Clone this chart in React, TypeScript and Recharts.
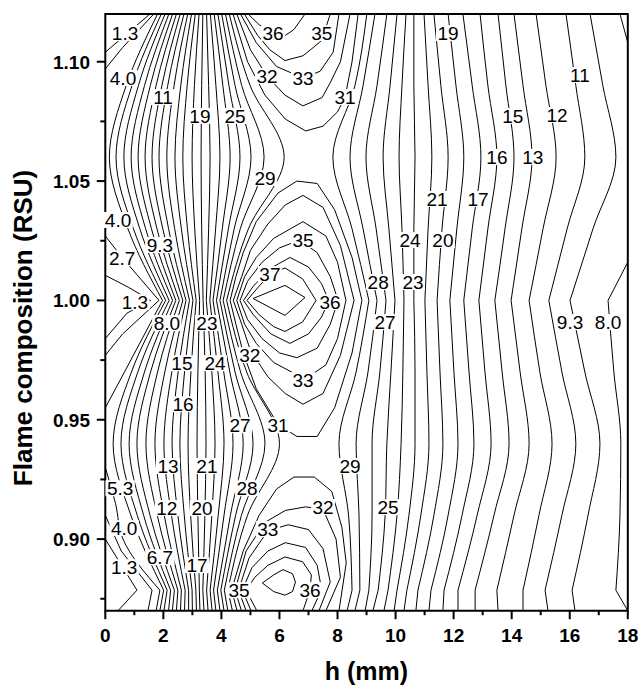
import React from "react";
import { ComposedChart, Line, Scatter, XAxis, YAxis, ReferenceArea } from "recharts";

const FONT = "'Liberation Sans', Arial, Helvetica, sans-serif";

// ---- axes ----
const xTicks = [0, 1, 2, 3, 4, 5, 6, 7, 8, 9, 10, 11, 12, 13, 14, 15, 16, 17, 18];
const xMajorTicks = [0, 2, 4, 6, 8, 10, 12, 14, 16, 18];
const yTicks = [0.875, 0.9, 0.925, 0.95, 0.975, 1.0, 1.025, 1.05, 1.075, 1.1];
const yMajorTicks = [0.9, 0.95, 1.0, 1.05, 1.1];

const rowsRSU = [1.12, 1.09, 1.06, 1.03, 1.0, 0.97, 0.94, 0.91, 0.8786, 0.87];

// left family of contour lines (levels 5.3 ... 29), h (mm) at each row
const leftLevels = [5.33, 6.67, 8.0, 9.33, 10.67, 12, 13.33, 14.67, 16, 17.33, 18.67, 20, 21.33, 22.67, 24, 25.33, 26.67, 28, 29.33];
const leftCrossings = [
  [1.93, 0.92, 0.37, 0.97, 2.08, 0.9, 0.27, 0.88, 2.01, 1.88],
  [2.06, 1.14, 0.64, 1.19, 2.2, 1.12, 0.54, 1.1, 2.13, 2.02],
  [2.19, 1.35, 0.89, 1.39, 2.32, 1.35, 0.82, 1.32, 2.25, 2.18],
  [2.32, 1.55, 1.13, 1.59, 2.43, 1.56, 1.09, 1.54, 2.38, 2.31],
  [2.45, 1.75, 1.37, 1.78, 2.55, 1.8, 1.4, 1.79, 2.5, 2.45],
  [2.58, 1.95, 1.61, 1.98, 2.67, 2.05, 1.71, 2.03, 2.62, 2.59],
  [2.71, 2.15, 1.85, 2.18, 2.78, 2.29, 2.02, 2.28, 2.75, 2.73],
  [2.84, 2.37, 2.12, 2.39, 2.9, 2.51, 2.3, 2.5, 2.87, 2.87],
  [2.97, 2.6, 2.4, 2.62, 3.02, 2.73, 2.57, 2.72, 2.99, 3.0],
  [3.1, 2.82, 2.67, 2.83, 3.13, 2.95, 2.85, 2.94, 3.12, 3.14],
  [3.23, 3.07, 2.99, 3.08, 3.25, 3.19, 3.16, 3.19, 3.24, 3.26],
  [3.36, 3.32, 3.3, 3.32, 3.37, 3.44, 3.47, 3.43, 3.36, 3.4],
  [3.49, 3.56, 3.61, 3.56, 3.48, 3.67, 3.78, 3.67, 3.49, 3.54],
  [3.62, 3.81, 3.95, 3.8, 3.6, 3.88, 4.09, 3.89, 3.61, 3.68],
  [3.75, 4.05, 4.3, 4.03, 3.71, 4.08, 4.4, 4.09, 3.73, 3.81],
  [3.88, 4.26, 4.64, 4.24, 3.83, 4.29, 4.75, 4.31, 3.86, 3.95],
  [4.01, 4.47, 5.02, 4.44, 3.95, 4.47, 5.09, 4.49, 3.98, 4.09],
  [4.14, 4.7, 5.47, 4.65, 4.06, 4.66, 5.5, 4.69, 4.1, 4.22],
  [4.27, 4.99, 6.16, 4.93, 4.18, 4.87, 6.0, 4.9, 4.22, 4.38],
];

// right family of contour lines (levels 29 ... 9.3), h (mm) at each row
const rightLevels = [29.33, 28, 26.67, 25.33, 24, 22.67, 21.33, 20, 18.67, 17.33, 16, 14.67, 13.33, 12, 10.67, 9.33];
const rightCrossings = [
  [9.01, 8.6, 7.84, 8.5, 9.08, 8.64, 8.05, 8.38, 8.5, 8.33],
  [9.29, 8.88, 8.43, 8.88, 9.36, 9.05, 8.64, 8.74, 8.77, 8.6],
  [9.7, 9.36, 8.98, 9.33, 9.67, 9.46, 9.19, 9.19, 9.08, 8.95],
  [10.05, 9.81, 9.57, 9.77, 9.98, 9.84, 9.7, 9.64, 9.4, 9.22],
  [10.36, 10.22, 10.12, 10.22, 10.29, 10.25, 10.19, 10.05, 9.74, 9.6],
  [10.63, 10.63, 10.67, 10.63, 10.63, 10.67, 10.67, 10.46, 10.05, 9.95],
  [10.98, 11.12, 11.25, 11.12, 11.01, 11.08, 11.15, 10.87, 10.39, 10.29],
  [11.32, 11.56, 11.81, 11.6, 11.43, 11.53, 11.63, 11.32, 10.77, 10.7],
  [11.81, 12.08, 12.35, 12.11, 11.87, 12.01, 12.15, 11.81, 11.22, 11.15],
  [12.32, 12.64, 12.94, 12.64, 12.35, 12.53, 12.7, 12.29, 11.67, 11.63],
  [12.91, 13.18, 13.49, 13.18, 12.87, 13.08, 13.29, 12.81, 12.15, 12.15],
  [13.53, 13.8, 14.08, 13.77, 13.42, 13.67, 13.91, 13.39, 12.74, 12.74],
  [14.08, 14.39, 14.7, 14.35, 13.98, 14.29, 14.6, 14.08, 13.49, 13.53],
  [14.84, 15.18, 15.53, 15.08, 14.6, 14.97, 15.39, 14.94, 14.39, 14.39],
  [15.87, 16.21, 16.52, 15.91, 15.28, 15.73, 16.21, 15.73, 15.15, 15.25],
  [16.7, 17.14, 17.59, 16.8, 16.01, 16.52, 17.04, 16.63, 16.08, 16.18],
];

// pieces of lines that run into the plot edges (levels 1.3, 2.7, 4.0 and 8.0), [h, RSU]
const edgeSmooth = [
  [[1.8, 1.12], [0.72, 1.09], [0.14, 1.06], [0.78, 1.03], [1.97, 1.0]],
  [[1.97, 1.0], [0.66, 0.97], [0, 0.955]],
  [[0, 0.93], [0.35, 0.915], [0.61, 0.9], [1.88, 0.8786]],
  [[17.32, 1.0], [17.52, 0.97], [17.76, 0.94], [17.73, 0.91], [17.59, 0.8786]],
];
const edgeSharp = [
  [[1.54, 1.12], [0, 1.104]],
  [[0, 1.0105], [0.8, 1.0055], [1.56, 1.0], [0.75, 0.9947], [0, 0.984]],
  [[0, 0.9], [0.61, 0.888], [1.09, 0.8786], [0.44, 0.87]],
  [[1.67, 1.12], [0.6, 1.106], [0, 1.097]],
  [[0, 1.027], [0.58, 1.018], [1.85, 1.0], [0.6, 0.986], [0, 0.977]],
  [[0, 0.91], [0.55, 0.895], [1.61, 0.8786], [1.47, 0.87]],
  [[1.88, 0.8786], [1.75, 0.87]],
  [[17.73, 1.12], [18, 1.108]],
  [[18, 1.016], [17.32, 1.0]],
  [[17.59, 0.8786], [18, 0.87]],
];

// contours around the three maxima near h = 6 mm (levels 31 ... 39), [h, RSU]
const topPeak = [
  [[4.4, 1.12], [4.9, 1.1], [5.5, 1.086], [6.2, 1.076], [6.9, 1.071], [7.5, 1.073], [8.0, 1.079], [8.26, 1.0852], [8.5, 1.1], [8.71, 1.12]],
  [[4.53, 1.12], [5.0, 1.105], [5.57, 1.094], [6.19, 1.086], [6.81, 1.0815], [7.47, 1.085], [7.74, 1.091], [8.1, 1.1], [8.43, 1.12]],
  [[4.66, 1.12], [5.2, 1.108], [5.9, 1.098], [6.81, 1.0932], [7.4, 1.096], [7.85, 1.104], [8.05, 1.12]],
  [[4.79, 1.12], [5.25, 1.111], [5.67, 1.105], [6.19, 1.1005], [6.81, 1.1025], [7.22, 1.1065], [7.46, 1.109], [7.75, 1.12]],
  [[4.92, 1.12], [5.3, 1.1155], [5.78, 1.112], [6.2, 1.111], [6.5, 1.1135], [6.88, 1.12]],
];
const middlePeak = [
  [[4.3, 1.0], [4.5, 1.01], [4.75, 1.02], [5.2, 1.033], [5.95, 1.045], [6.6, 1.05], [7.3, 1.049], [7.9, 1.038], [8.5, 1.018], [8.84, 1.0], [8.5, 0.978], [7.9, 0.955], [7.3, 0.943], [6.6, 0.943], [5.95, 0.948], [5.2, 0.963], [4.75, 0.978], [4.5, 0.99], [4.3, 1.0]],
  [[4.41, 1.0], [4.7, 1.01], [5.0, 1.021], [5.6, 1.032], [6.2, 1.04], [6.81, 1.044], [7.5, 1.039], [8.1, 1.023], [8.57, 1.0], [8.1, 0.977], [7.5, 0.961], [6.81, 0.9565], [6.2, 0.961], [5.6, 0.968], [5.0, 0.979], [4.7, 0.99], [4.41, 1.0]],
  [[4.53, 1.0], [4.8, 1.01], [5.2, 1.018], [5.8, 1.026], [6.81, 1.033], [7.6, 1.027], [8.0, 1.016], [8.29, 1.0], [8.0, 0.984], [7.6, 0.973], [6.88, 0.967], [5.8, 0.974], [5.2, 0.982], [4.8, 0.99], [4.53, 1.0]],
  [[4.64, 1.0], [4.9, 1.008], [5.4, 1.016], [6.0, 1.022], [6.7, 1.0253], [7.3, 1.02], [7.75, 1.01], [8.02, 1.0], [7.75, 0.99], [7.3, 0.98], [6.6, 0.976], [6.0, 0.978], [5.4, 0.984], [4.9, 0.992], [4.64, 1.0]],
  [[4.76, 1.0], [5.1, 1.006], [5.7, 1.0135], [6.36, 1.018], [7.0, 1.014], [7.45, 1.007], [7.7, 1.0], [7.45, 0.993], [7.0, 0.986], [6.36, 0.982], [5.7, 0.986], [5.1, 0.994], [4.76, 1.0]],
  [[4.88, 1.0], [5.3, 1.006], [5.67, 1.011], [6.19, 1.0136], [6.8, 1.009], [7.26, 1.0], [6.8, 0.991], [6.19, 0.987], [5.8, 0.989], [5.3, 0.994], [4.88, 1.0]],
  [[5.09, 1.0008], [6.19, 1.0063], [6.88, 1.0012], [6.19, 0.9937], [5.09, 1.0008]],
];
const bottomPeak = [
  [[4.54, 0.87], [4.35, 0.8786], [4.75, 0.895], [5.3, 0.91], [5.9, 0.921], [6.5, 0.926], [7.2, 0.926], [7.8, 0.92], [8.15, 0.905], [8.3, 0.89], [8.05, 0.87]],
  [[4.69, 0.87], [4.47, 0.8786], [4.85, 0.895], [5.5, 0.907], [6.2, 0.912], [6.9, 0.9135], [7.5, 0.9125], [7.95, 0.9], [8.1, 0.884], [7.6, 0.87]],
  [[4.85, 0.87], [4.59, 0.8786], [4.95, 0.892], [5.6, 0.9035], [6.3, 0.906], [7.0, 0.904], [7.5, 0.896], [7.75, 0.882], [7.36, 0.87]],
  [[5.02, 0.87], [4.72, 0.8786], [5.05, 0.888], [5.6, 0.895], [6.2, 0.8985], [6.9, 0.8965], [7.3, 0.889], [7.45, 0.879], [7.12, 0.87]],
  [[5.22, 0.87], [4.85, 0.8786], [5.15, 0.884], [5.6, 0.889], [6.19, 0.8925], [6.8, 0.8905], [7.1, 0.885], [7.05, 0.8786], [6.81, 0.87]],
  [[5.41, 0.8816], [5.8, 0.885], [6.12, 0.8872], [6.45, 0.8855], [6.55, 0.882], [6.45, 0.878], [6.19, 0.8765], [5.8, 0.878], [5.41, 0.8816]],
];

// contour level labels: [h, RSU, text]
const contourLabels = [
  [0.68, 1.112, "1.3"], [0.61, 1.0932, "4.0"], [1.99, 1.0852, "11"], [3.26, 1.0773, "19"], [4.47, 1.0773, "25"],
  [5.78, 1.112, "36"], [7.46, 1.112, "35"], [5.57, 1.094, "32"], [6.81, 1.0932, "33"], [8.26, 1.0852, "31"],
  [5.5, 1.0513, "29"], [0.44, 1.0337, "4.0"], [1.88, 1.0232, "9.3"], [0.58, 1.0177, "2.7"], [6.81, 1.0253, "35"],
  [5.67, 1.011, "37"], [1.02, 0.9993, "1.3"], [7.74, 0.9993, "36"], [2.12, 0.9905, "8.0"], [3.5, 0.9905, "23"],
  [4.98, 0.9771, "32"], [2.64, 0.9737, "15"], [3.78, 0.9737, "24"], [6.81, 0.9666, "33"], [2.68, 0.9565, "16"],
  [4.64, 0.9477, "27"], [5.95, 0.9477, "31"], [2.16, 0.9306, "13"], [3.5, 0.9306, "21"], [0.51, 0.9213, "5.3"],
  [4.88, 0.9213, "28"], [2.12, 0.913, "12"], [3.33, 0.913, "20"], [7.5, 0.9134, "32"], [0.65, 0.9046, "4.0"],
  [5.6, 0.9042, "33"], [1.88, 0.8924, "6.7"], [0.65, 0.8882, "1.3"], [3.16, 0.8891, "17"], [4.61, 0.8786, "35"],
  [7.05, 0.8786, "36"], [11.81, 1.112, "19"], [16.35, 1.0944, "11"], [14.04, 1.0773, "15"], [15.56, 1.0777, "12"],
  [13.49, 1.0601, "16"], [14.73, 1.0601, "13"], [11.43, 1.0425, "21"], [12.84, 1.0425, "17"], [10.5, 1.0253, "24"],
  [11.63, 1.0253, "20"], [9.4, 1.0077, "28"], [10.6, 1.0077, "23"], [9.64, 0.9909, "27"], [16.01, 0.9909, "9.3"],
  [17.32, 0.9909, "8.0"], [8.43, 0.9306, "29"], [9.74, 0.9134, "25"],
];

// ---- build series from the tables ----
type Seg = { pts: { x: number; y: number }[]; curve: string };
const fromPairs = (arr: number[][]) => arr.map((p) => ({ x: p[0], y: p[1] }));
const rowSegs = (xs: number[]): Seg[] => [
  { pts: xs.slice(0, 5).map((x, i) => ({ x, y: rowsRSU[i] })), curve: "monotoneY" },
  { pts: xs.slice(4, 9).map((x, i) => ({ x, y: rowsRSU[i + 4] })), curve: "monotoneY" },
  { pts: xs.slice(8, 10).map((x, i) => ({ x, y: rowsRSU[i + 8] })), curve: "linear" },
];

const segments: Seg[] = [
  ...leftCrossings.flatMap(rowSegs),
  ...rightCrossings.flatMap(rowSegs),
  ...edgeSmooth.map((p) => ({ pts: fromPairs(p), curve: "monotoneY" })),
  ...edgeSharp.map((p) => ({ pts: fromPairs(p), curve: "linear" })),
  ...topPeak.map((p) => ({ pts: fromPairs(p), curve: "linear" })),
  ...middlePeak.map((p) => ({ pts: fromPairs(p), curve: "linear" })),
  ...bottomPeak.map((p) => ({ pts: fromPairs(p), curve: "linear" })),
];

const labelPoints = contourLabels.map((l) => ({ x: l[0] as number, y: l[1] as number, t: l[2] as string }));

const textWidth = (t: string) => {
  let w = 0;
  for (const c of t) w += c === "." ? 5.28 : 10.56;
  return w;
};

const ContourLabel = (props: any) => {
  const { cx, cy, payload } = props;
  if (cx == null || cy == null) return null;
  const t = payload.t as string;
  const w = textWidth(t);
  return (
    <g>
      <rect x={cx - w / 2 - 1.5} y={cy - 8} width={w + 3} height={16} fill="#ffffff" />
      <text x={cx} y={cy + 6.8} textAnchor="middle" fontFamily={FONT} fontSize={19} fill="#000">
        {t}
      </text>
    </g>
  );
};

const XTick = (props: any) => {
  const { x, y, payload } = props;
  const v = payload.value as number;
  const major = xMajorTicks.includes(v);
  return (
    <g>
      <line x1={x} x2={x} y1={y} y2={y + (major ? 8.5 : 4.5)} stroke="#000" strokeWidth={2} />
      {major && (
        <text x={x} y={y + 31} textAnchor="middle" fontFamily={FONT} fontSize={19} fontWeight="bold" fill="#000">
          {v}
        </text>
      )}
    </g>
  );
};

const YTick = (props: any) => {
  const { x, y, payload } = props;
  const v = payload.value as number;
  const major = yMajorTicks.some((m) => Math.abs(m - v) < 1e-6);
  return (
    <g>
      <line x1={x - (major ? 8.5 : 5)} x2={x} y1={y} y2={y} stroke="#000" strokeWidth={2} />
      {major && (
        <text x={x - 15.3} y={y + 6.8} textAnchor="end" fontFamily={FONT} fontSize={19} fontWeight="bold" fill="#000">
          {v.toFixed(2)}
        </text>
      )}
    </g>
  );
};

export default function App() {
  return (
    <div style={{ position: "absolute", left: 0, top: 0, width: 639, height: 687, background: "#fff" }}>
      <ComposedChart width={639} height={687} margin={{ top: 14, right: 11.2, bottom: 0, left: 0 }}>
        <XAxis
          dataKey="x"
          type="number"
          domain={[0, 18]}
          ticks={xTicks}
          interval={0}
          height={76.3}
          axisLine={false}
          tickLine={false}
          tickSize={0}
          tickMargin={0}
          tick={<XTick />}
          label={{
            content: () => (
              <text x={366.5} y={680} textAnchor="middle" fontFamily={FONT} fontSize={25} fontWeight="bold" fill="#000">
                h (mm)
              </text>
            ),
          }}
        />
        <YAxis
          dataKey="y"
          type="number"
          domain={[0.87, 1.12]}
          ticks={yTicks}
          interval={0}
          width={105.3}
          axisLine={false}
          tickLine={false}
          tickSize={0}
          tickMargin={0}
          tick={<YTick />}
          label={{
            content: () => (
              <text
                x={32}
                y={328}
                transform="rotate(-90 32 328)"
                textAnchor="middle"
                fontFamily={FONT}
                fontSize={26}
                fontWeight="bold"
                fill="#000"
              >
                Flame composition (RSU)
              </text>
            ),
          }}
        />
        {segments.map((s, i) => (
          <Line
            key={"c" + i}
            data={s.pts}
            dataKey="y"
            type={s.curve as any}
            stroke="#000"
            strokeWidth={1}
            dot={false}
            activeDot={false}
            legendType="none"
            isAnimationActive={false}
          />
        ))}
        <Scatter
          data={labelPoints}
          dataKey="y"
          isAnimationActive={false}
          shape={(p: any) => <ContourLabel {...p} />}
        />
        <ReferenceArea x1={0} x2={18} y1={0.87} y2={1.12} fill="none" fillOpacity={0} stroke="#000" strokeWidth={2} />
      </ComposedChart>
    </div>
  );
}
